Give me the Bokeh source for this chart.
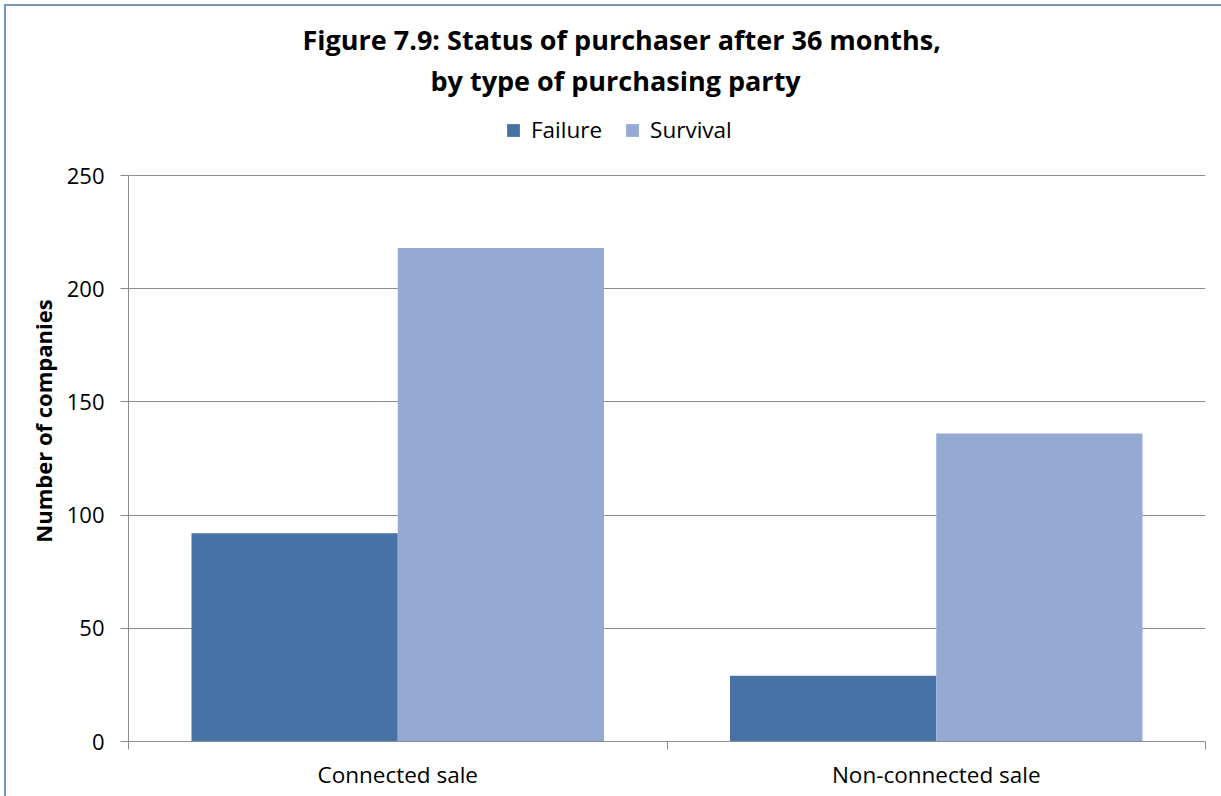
from bokeh.plotting import figure
from bokeh.models import (Range1d, FixedTicker, Legend, LegendItem, Title,
                          ColumnDataSource)
from bokeh.embed import file_html
from bokeh.resources import INLINE

categories = ["Connected sale", "Non-connected sale"]
series = ["Failure", "Survival"]
failure = [92, 29]
survival = [218, 136]
y_ticks = [0, 50, 100, 150, 200, 250]

colors = {"Failure": "#4672A6", "Survival": "#95AAD3"}
FONT = "Open Sans"

y_max = 250
y_top = y_max * 641 / 566  # headroom in the frame for the legend

p = figure(frame_width=1077, frame_height=641, output_backend="svg", toolbar_location=None,
           x_range=Range1d(0, len(categories)), y_range=Range1d(0, y_top),
           min_border_left=122, min_border_right=16, min_border_bottom=55,
           min_border_top=94, title=None)
p.margin = (4, 0, 0, 4)
p.styles = {"border-top": "2px solid #7b93bd", "border-left": "2px solid #7b93bd"}

bw = 0.383
centers = [i + 0.5 for i in range(len(categories))]
renderers = []
for k, (name, vals) in enumerate([("Failure", failure), ("Survival", survival)]):
    xs = [c + (k - 0.5) * bw for c in centers]
    src = ColumnDataSource(dict(x=xs, top=vals))
    r = p.vbar(x="x", top="top", bottom=0, width=bw, source=src,
               fill_color=colors[name], line_color=None)
    renderers.append((name, r))

p.outline_line_color = None
p.xgrid.grid_line_color = None
p.ygrid.grid_line_color = "#8c8c8c"
p.ygrid.grid_line_width = 1

p.yaxis.ticker = FixedTicker(ticks=y_ticks)
p.yaxis.bounds = (0, y_max)
p.yaxis.axis_line_color = "#8c8c8c"
p.yaxis.major_tick_line_color = "#8c8c8c"
p.yaxis.major_tick_out = 8
p.yaxis.major_tick_in = 0
p.yaxis.minor_tick_line_color = None
p.yaxis.major_label_text_font = FONT
p.yaxis.major_label_text_font_size = "22px"
p.yaxis.major_label_text_color = "#000000"
p.yaxis.major_label_standoff = 16
p.yaxis.axis_label = "Number of companies"
p.yaxis.axis_label_text_font = FONT
p.yaxis.axis_label_text_font_style = "bold"
p.yaxis.axis_label_text_font_size = "22px"
p.yaxis.axis_label_text_color = "#000000"
p.yaxis.axis_label_standoff = 6

p.xaxis.ticker = FixedTicker(ticks=centers, minor_ticks=list(range(len(categories) + 1)))
p.xaxis.major_label_overrides = {c: name for c, name in zip(centers, categories)}
p.xaxis.axis_line_color = "#8c8c8c"
p.xaxis.major_tick_line_color = None
p.xaxis.minor_tick_line_color = "#8c8c8c"
p.xaxis.minor_tick_out = 8
p.xaxis.minor_tick_in = 0
p.xaxis.major_label_text_font = FONT
p.xaxis.major_label_text_font_size = "22.5px"
p.xaxis.major_label_text_color = "#000000"
p.xaxis.major_label_standoff = 9

legend = Legend(items=[LegendItem(label=n, renderers=[r]) for n, r in renderers],
                orientation="horizontal", location=(377, 596),
                label_text_font=FONT, label_text_font_size="22.5px",
                label_text_color="#000000",
                glyph_width=16, glyph_height=16, spacing=22, label_standoff=10,
                border_line_color=None, background_fill_alpha=0, margin=0,
                padding=6)
p.add_layout(legend, "center")

p.add_layout(Title(text="by type of purchasing party", align="left",
                   text_font=FONT, text_font_size="27px", text_font_style="bold",
                   text_color="#000000", standoff=4, offset=302), "above")
p.add_layout(Title(text="Figure 7.9: Status of purchaser after 36 months,",
                   align="left", text_font=FONT, text_font_size="27px",
                   text_font_style="bold", text_color="#000000", standoff=0,
                   offset=174), "above")

open("out.html", "w").write(file_html(p, INLINE))
